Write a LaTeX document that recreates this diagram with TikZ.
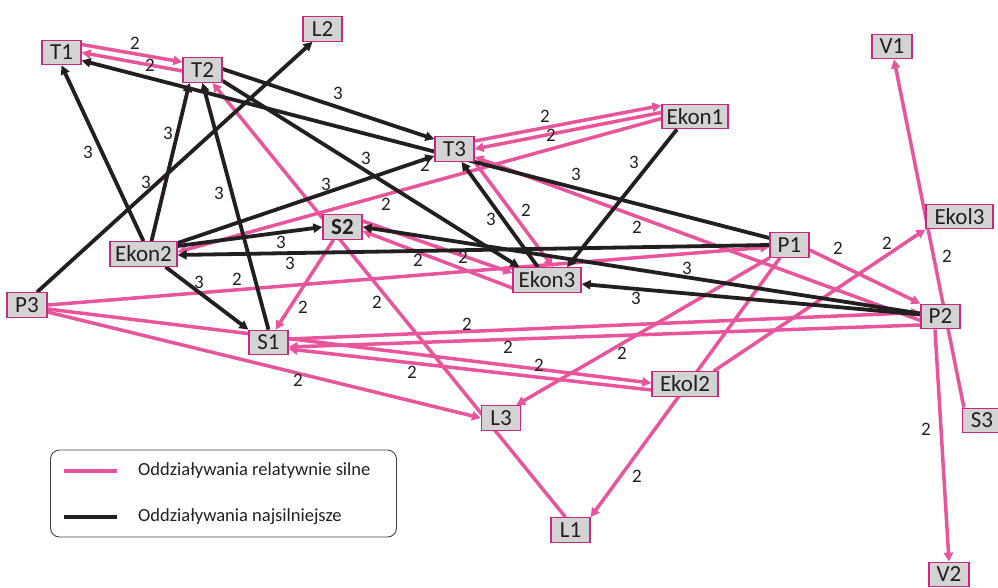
\documentclass[tikz,border=0pt]{standalone}
\usepackage{fontspec}
\setmainfont{Carlito}
\usetikzlibrary{arrows.meta,backgrounds}
\definecolor{pinkedge}{HTML}{E8559C}
\definecolor{blackedge}{HTML}{231F20}
\definecolor{nodeborder}{HTML}{C8287F}
\definecolor{nodefill}{HTML}{D3D3D3}
\definecolor{textcol}{HTML}{231F20}
\begin{document}
\begin{tikzpicture}[x=1pt,y=-1pt,
 box/.style={draw=nodeborder, fill=nodefill, line width=1.2pt, minimum height=24.5pt, minimum width=39pt, inner sep=0pt, font=\fontsize{23}{23}\selectfont, text=textcol},
 wide/.style={box, minimum width=67pt},
 pk/.style={draw=pinkedge, line width=3.5pt, -{Triangle[length=9pt,width=9pt]}},
 bk/.style={draw=blackedge, line width=3.8pt, -{Triangle[length=9pt,width=9pt]}},
 lab/.style={font=\fontsize{19}{19}\selectfont, text=textcol, inner sep=0pt},
 legtext/.style={font=\fontsize{18.5}{18.5}\selectfont, text=textcol, inner sep=0pt, anchor=west},
]
\useasboundingbox (0,0) rectangle (998,587);

% nodes
\node[box] (T1) at (61.5,52.5) {T1};
\node[box] (T2) at (202.5,70) {T2};
\node[box] (L2) at (322.5,29) {L2};
\node[box] (T3) at (454.5,149) {T3};
\node[wide, minimum width=66pt] (Ekon1) at (695,116.5) {Ekon1};
\node[box, minimum width=40pt] (V1) at (892,46.5) {V1};
\node[wide] (Ekon2) at (143.5,254) {Ekon2};
\node[box] (S2) at (342.5,227) {\bfseries S2};
\node[box] (P1) at (789.5,245) {P1};
\node[wide] (Ekol3) at (959.5,216.5) {Ekol3};
\node[box, minimum width=40pt] (P3) at (27,305) {P3};
\node[wide, minimum width=68pt] (Ekon3) at (547,280) {Ekon3};
\node[box] (P2) at (940.5,316.5) {P2};
\node[box] (S1) at (268.5,342.5) {S1};
\node[wide, minimum width=66pt] (Ekol2) at (685,384) {Ekol2};
\node[box] (L3) at (501,418) {L3};
\node[box] (S3) at (982,420.5) {S3};
\node[box] (L1) at (570.5,530) {L1};
\node[box, minimum width=40pt] (V2) at (949,574.5) {V2};

\begin{scope}[on background layer]
\fill[white] (0,0) rectangle (998,587);
% pink connectors
\draw[pk] ([yshift=8pt]T1.east) -- ([yshift=8pt]T2.west);
\draw[pk] ([yshift=-1pt]T2.west) -- (T1.east);
\draw[pk] ([xshift=-5pt]L1.north) -- ([xshift=10pt]T2.south);
\draw[pk] ([yshift=8pt]T3.east) -- ([yshift=11pt]Ekon1.west);
\draw[pk] ([yshift=4pt]Ekon1.west) -- (T3.east);
\draw[pk] ([yshift=-2pt]Ekon1.west) -- ([yshift=2pt]Ekon2.east);
\draw[pk] (T3.south east) -- ([xshift=6pt]Ekon3.north);
\draw[pk] ([yshift=-4pt]P2.west) -- ([yshift=-8pt]T3.east);
\draw[pk] ([yshift=6pt]S2.east) -- ([yshift=7pt]Ekon3.west);
\draw[pk] ([yshift=-8pt]Ekon3.west) -- ([yshift=-4pt]S2.east);
\draw[pk] ([xshift=-9pt]S2.south) -- ([xshift=7pt]S1.north);
\draw[pk] (P3.east) -- ([yshift=-2pt]P1.west);
\draw[pk] ([yshift=-7pt]P3.east) -- (L3.west);
\draw[pk] ([yshift=-4pt]P3.east) -- ([yshift=1pt]Ekol2.west);
\draw[pk] ([yshift=3.5pt]S1.east) -- ([yshift=4pt]P2.west);
\draw[pk] ([yshift=-8.5pt]P2.west) -- ([yshift=-4.5pt]S1.east);
\draw[pk] ([yshift=-6pt]Ekol2.west) -- ([yshift=-6.5pt]S1.east);
\draw[pk] (P1.south west) -- ([xshift=-5pt]L3.north east);
\draw[pk] ([xshift=-9.5pt]P1.south) -- (L1.north east);
\draw[pk] ([yshift=-5pt]P1.east) -- (P2.north west);
\draw[pk] ([xshift=-5pt]Ekol2.north east) -- (Ekol3.south west);
\draw[pk] ([xshift=2pt]S3.north west) -- ([xshift=2pt]V1.south);
\draw[pk] ([xshift=-5.5pt]P2.south) -- (V2.north);
% black connectors
\draw[bk] (Ekon2.north) -- (T1.south);
\draw[bk] ([xshift=8pt]Ekon2.north) -- ([xshift=-13pt]T2.south);
\draw[bk] ([xshift=10pt]P3.north) -- ([xshift=-10pt]L2.south);
\draw[bk] (S1.north) -- (T2.south);
\draw[bk] ([yshift=1pt]T2.east) -- ([yshift=-3pt]T3.north west);
\draw[bk] ([yshift=7pt]P1.west) -- ([yshift=-8pt]T1.east);
\draw[bk] ([yshift=2pt]T2.south east) -- ([xshift=7pt]Ekon3.north west);
\draw[bk] ([yshift=11pt]Ekon2.east) -- ([yshift=-7pt]T3.west);
\draw[bk] ([yshift=8pt]Ekon2.east) -- (S2.west);
\draw[bk] (P1.west) -- ([yshift=-1pt]Ekon2.east);
\draw[bk] ([xshift=22pt]Ekon2.south) -- (S1.north west);
\draw[bk] ([xshift=-9pt]Ekon3.north) -- ([xshift=7pt]T3.south);
\draw[bk] ([xshift=-18pt]Ekon1.south) -- ([xshift=20pt]Ekon3.north);
\draw[bk] ([yshift=3pt]P2.west) -- (S2.east);
\draw[bk] ([yshift=2pt]P2.west) -- ([yshift=-4pt]Ekon3.east);
\end{scope}

% labels 2
\foreach \n/\x/\y in {a/135/43, b/150/65, c/545/116, d/551/135, e/425/165, f/386/204,
  g/526/210, h/637/227, i/418/260, j/463/257, k/377/302, l/303/307, m/237/279,
  n/298/380, o/467/324, p/508/347, q/539/365, r/412/372, s/622/353, t/637/476,
  u/838/248, v/887/243, w/947/256, z/926/429}
  \node[lab] (two\n) at (\x,\y) {2};
% labels 3
\foreach \n/\x/\y in {a/88/152, b/168/133, c/146/182, d/219/193, e/338/93,
  f/366/158, g/326/184, h/281/242, i/290/263, j/199/282, k/491/219,
  l/634/162, m/576/174, n/687/268, o/636/298}
  \node[lab] (three\n) at (\x,\y) {3};

% legend
\node[draw=textcol!85, line width=0.9pt, rounded corners=9pt, minimum width=346pt, minimum height=87pt, inner sep=0pt] (legend) at (223.5,493.5) {};
\draw[draw=pinkedge, line width=3.6pt] (64,471) -- (117,471);
\draw[draw=blackedge, line width=3.8pt] (64,517) -- (117,517);
\node[legtext] (legpink) at (138,471) {Oddziaływania relatywnie silne};
\node[legtext] (legblack) at (138,517) {Oddziaływania najsilniejsze};
\end{tikzpicture}
\end{document}
